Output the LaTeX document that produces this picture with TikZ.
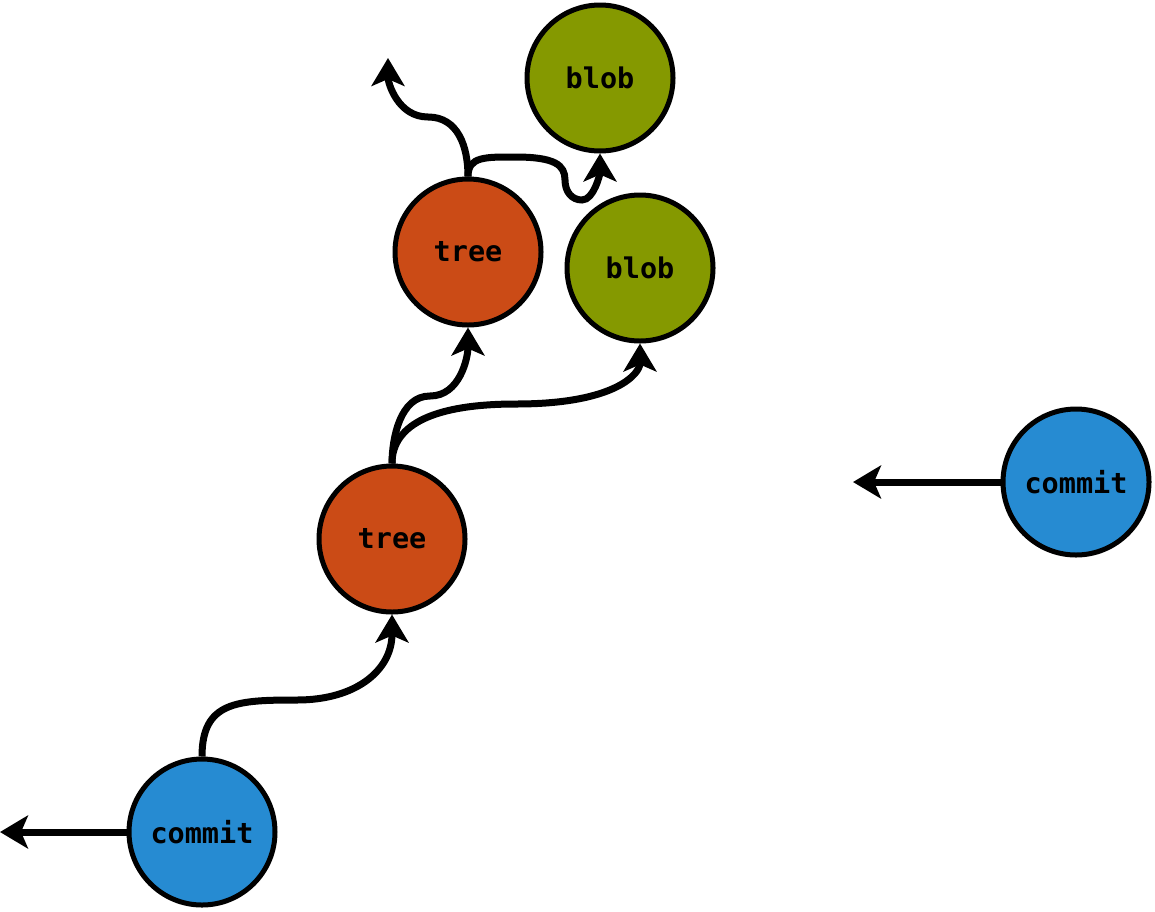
\documentclass[tikz,border=0pt]{standalone}
\usepackage{fontspec}
\setmonofont{DejaVu Sans Mono}
\usepackage{tikz}
\usetikzlibrary{arrows.meta}

\definecolor{CommitBlue}{HTML}{268BD2}
\definecolor{TreeOrange}{HTML}{CB4B16}
\definecolor{BlobGreen}{HTML}{859900}

\begin{document}
\begin{tikzpicture}[x=1pt, y=-1pt,
    obj/.style={draw, circle, line width=5pt, minimum size=146pt, inner sep=0pt,
                font=\fontsize{28.5}{28.5}\selectfont\ttfamily\bfseries},
    ref/.style={line width=7pt, -{Stealth[length=28pt, width=33pt, inset=7pt]}}]
  \useasboundingbox (0,0) rectangle (1155,911);

  \node[obj, fill=BlobGreen] (b1) at (600,78) {blob};
  \node[obj, fill=TreeOrange] (t2) at (468,252) {tree};
  \node[obj, fill=BlobGreen] (b2) at (640,268) {blob};
  \node[obj, fill=TreeOrange] (t1) at (392,539) {tree};
  \node[obj, fill=CommitBlue] (c2) at (1076,482) {commit};
  \node[obj, fill=CommitBlue] (c1) at (202,832) {commit};

  \coordinate (p1) at (0,832);
  \coordinate (p2) at (853,482);
  \coordinate (p3) at (388,58);

  \draw[ref] (c1.west) -- (p1);
  \draw[ref] (c2.west) -- (p2);
  \draw[ref] (c1.north) .. controls +(0,-55) and +(-60,0) .. (297,700)
                        .. controls +(60,0) and +(0,55) .. (t1.south);
  \draw[ref] (t1.north) .. controls +(0,-25) and +(-30,0) .. (430,396)
                        .. controls +(30,0) and +(0,30) .. (t2.south);
  \draw[ref] (t1.north) .. controls +(0,-40) and +(-80,0) .. (516,404)
                        .. controls +(100,0) and +(0,30) .. (b2.south);
  \draw[ref] (t2.north) .. controls +(0,-30) and +(30,0) .. (428,117)
                        .. controls +(-30,0) and +(0,25) .. (p3);
  \draw[ref] (t2.north) .. controls +(0,-20) and +(-30,0) .. (515,157)
                        .. controls +(40,0) and +(0,-15) .. (565,180)
                        .. controls +(0,12) and +(-10,0) .. (582,200)
                        .. controls +(12,0) and +(0,20) .. (b1.south);
\end{tikzpicture}
\end{document}
